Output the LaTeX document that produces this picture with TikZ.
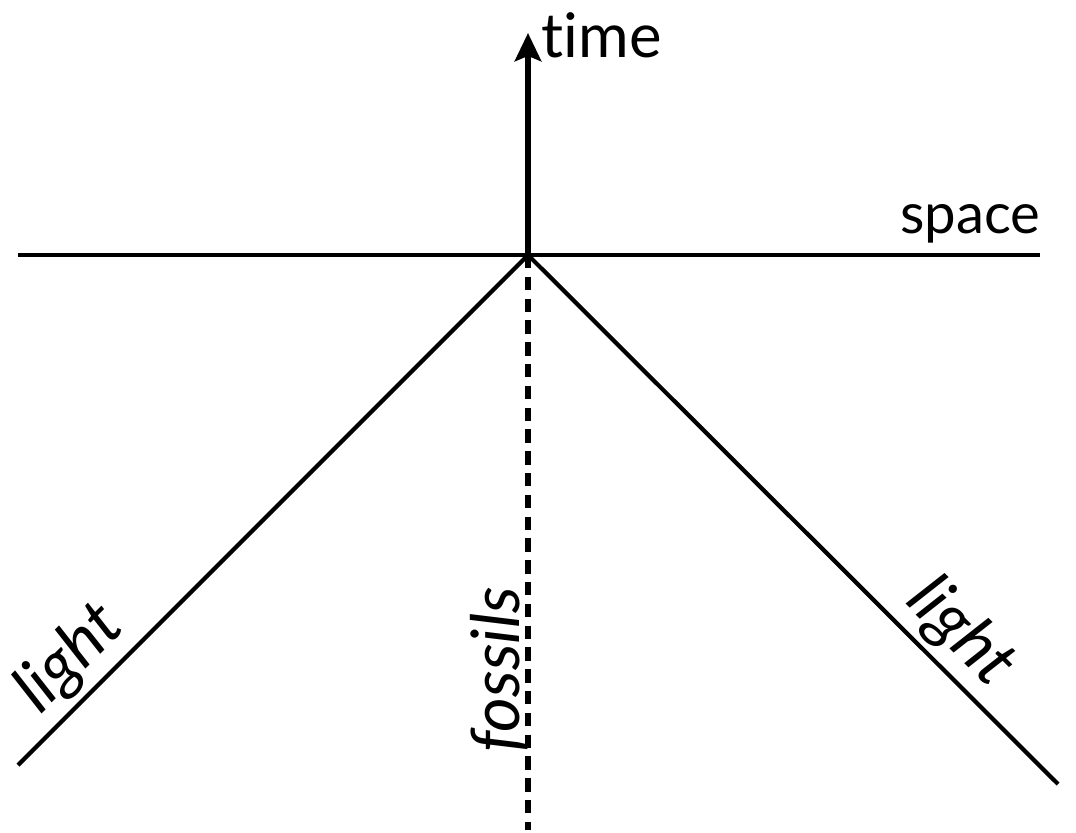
\documentclass[tikz,border=0pt]{standalone}
\usepackage{fontspec}
\setmainfont{Lato}[Ligatures=NoCommon]
\usetikzlibrary{arrows.meta}
\begin{document}
\begin{tikzpicture}[x=0.01cm,y=-0.01cm,
  axis/.style={line width=1.3pt, line cap=butt},
  lightline/.style={line width=1.2pt},
  fossline/.style={line width=1.9pt, dash pattern=on 3.8pt off 2.4pt},
  timearrow/.style={line width=1.9pt, -{Stealth[length=8pt,width=7.5pt,inset=1.5pt]}},
  lab/.style={font=\fontsize{17.5}{21}\selectfont, inner sep=0pt},
  slab/.style={font=\fontsize{16}{19}\selectfont, inner sep=0pt},
  ilab/.style={font=\fontsize{19}{23}\selectfont\itshape, inner sep=1.5pt}]
\useasboundingbox (0,0) rectangle (1076,832);
\coordinate (O) at (528,255);
\coordinate (T) at (528,33);
\coordinate (SL) at (18,255);
\coordinate (SR) at (1040,255);
\coordinate (LL) at (18,765);
\coordinate (LR) at (1058,784);
\coordinate (D) at (528,830);
\draw[axis] (SL) -- (SR);
\draw[lightline] (O) -- (LL) node[ilab, pos=0.845, sloped, above] (light1) {light};
\draw[lightline] (O) -- (LR) node[ilab, pos=0.765, sloped, above] (light2) {light};
\draw[fossline] (O) -- (D);
\draw[timearrow] (O) -- (T);
\node[lab, anchor=base west] (time) at (541,57) {time};
\node[slab, anchor=base east] (space) at (1041,233) {space};
\node[ilab, rotate=90, anchor=base, inner sep=0pt] (fossils) at (519,670) {fossils};
\end{tikzpicture}
\end{document}
